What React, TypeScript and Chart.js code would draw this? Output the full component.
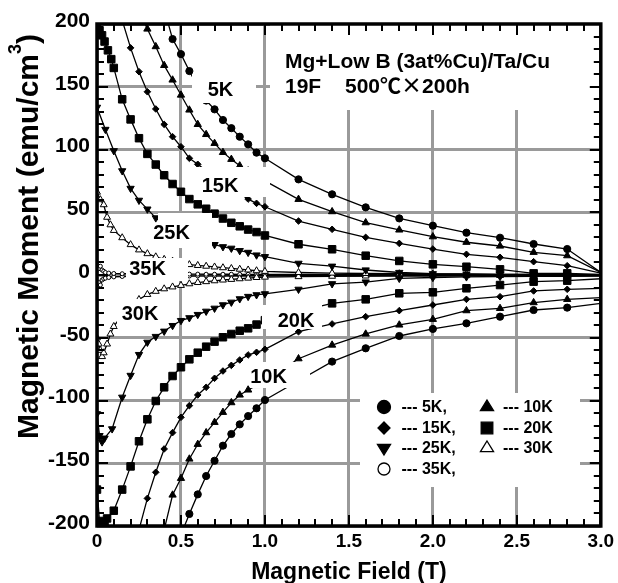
import React, { useEffect, useRef } from 'react';
import { Chart, registerables } from 'chart.js';

Chart.register(...registerables);

const FONT = '"Liberation Sans", Arial, Helvetica, sans-serif';
const CJK = '"Noto Sans CJK JP", "Liberation Sans", sans-serif';

// ---------- tick labels ----------
const xTickLabels = ['0', '0.5', '1.0', '1.5', '2.0', '2.5', '3.0'];
const yTickLabels = ['-200', '-150', '-100', '-50', '0', '50', '100', '150', '200'];

// ---------- data: field (T) / moment (emu/cm3) ----------
// 5 K
const f5Up = [0.40, 0.45, 0.50, 0.55, 0.60, 0.65, 0.70, 0.75, 0.80, 0.85, 0.90, 0.95, 1.00, 1.2, 1.4, 1.6, 1.8, 2.0, 2.2, 2.4, 2.6, 2.8, 3.0];
const m5Up = [212, 188, 176, 162.5, 150, 139, 132, 123.5, 117, 110.2, 104.1, 97.5, 93, 76.2, 64.3, 53.9, 45.1, 39.3, 33.7, 29.7, 24.7, 20.7, 2];
const f5Dn = [0.50, 0.55, 0.60, 0.65, 0.70, 0.75, 0.80, 0.85, 0.90, 0.95, 1.00, 1.2, 1.4, 1.6, 1.8, 2.0, 2.2, 2.4, 2.6, 2.8, 3.0];
const m5Dn = [-207, -190.4, -174.8, -160.2, -148, -136, -126.7, -119, -112.4, -106.2, -99.6, -84.3, -69, -58.4, -48.6, -43, -38.5, -33.2, -27.9, -26, -22.6];
// 10 K
const f10Up = [0.25, 0.30, 0.35, 0.40, 0.45, 0.50, 0.55, 0.60, 0.65, 0.70, 0.75, 0.80, 0.85, 0.90, 0.95, 1.00, 1.2, 1.4, 1.6, 1.8, 2.0, 2.2, 2.4, 2.6, 2.8, 3.0];
const m10Up = [211, 196, 182, 167, 155.4, 143.4, 131.5, 120, 112, 104.9, 97.7, 92.2, 87, 83, 79, 75, 60.3, 50.5, 41.7, 35.9, 30.5, 26.1, 23.1, 18.1, 15.4, 2];
const f10Dn = [0.40, 0.45, 0.50, 0.55, 0.60, 0.65, 0.70, 0.75, 0.80, 0.85, 0.90, 0.95, 1.00, 1.2, 1.4, 1.6, 1.8, 2.0, 2.2, 2.4, 2.6, 2.8, 3.0];
const m10Dn = [-203, -175.3, -162, -146.6, -134.9, -125.6, -117.4, -109.4, -101.7, -95.6, -91.6, -88, -84.5, -66.7, -55.8, -47, -39.8, -35.3, -28.4, -26.6, -22, -19.4, -18];
// 15 K
const f15Up = [0.15, 0.20, 0.25, 0.30, 0.35, 0.40, 0.45, 0.50, 0.55, 0.60, 0.65, 0.70, 0.75, 0.80, 0.85, 0.90, 0.95, 1.00, 1.2, 1.4, 1.6, 1.8, 2.0, 2.2, 2.4, 2.6, 2.8, 3.0];
const m15Up = [203, 181, 162, 146, 132.3, 120, 110.2, 102.2, 93, 88.2, 83, 78, 73.5, 69, 65, 60.5, 57.1, 54.4, 43, 36.4, 30, 25.2, 20.7, 16.5, 14.1, 10.6, 7.4, 1.5];
const f15Dn = [0.25, 0.30, 0.35, 0.40, 0.45, 0.50, 0.55, 0.60, 0.65, 0.70, 0.75, 0.80, 0.85, 0.90, 0.95, 1.00, 1.2, 1.4, 1.6, 1.8, 2.0, 2.2, 2.4, 2.6, 2.8, 3.0];
const m15Dn = [-203, -178, -157.2, -138.6, -125.6, -113.4, -104.1, -95.6, -89.5, -82.3, -76.5, -72, -67.7, -63.7, -61.6, -59.2, -45.2, -39, -33.2, -28.4, -23.9, -19.4, -17.3, -12.7, -11.4, -10.6];
// 20 K
const f20Up = [0.0, 0.015, 0.03, 0.045, 0.065, 0.085, 0.10, 0.15, 0.20, 0.25, 0.30, 0.35, 0.40, 0.45, 0.50, 0.55, 0.60, 0.65, 0.70, 0.75, 0.80, 0.85, 0.90, 0.95, 1.00, 1.2, 1.4, 1.6, 1.8, 2.0, 2.2, 2.4, 2.6, 2.8, 3.0];
const m20Up = [197, 195, 191, 186, 179, 172, 165, 140, 124, 109, 96.5, 88, 79.5, 72.5, 66.3, 60.5, 56.3, 52.8, 48.9, 45, 41.6, 38.8, 36.2, 34.2, 31.5, 24.5, 20.5, 15.4, 11.2, 8.5, 6.6, 4.5, 1.3, 1.3, 0.5];
const f20Dn = [0.0, 0.015, 0.03, 0.045, 0.06, 0.10, 0.15, 0.20, 0.25, 0.30, 0.35, 0.40, 0.45, 0.50, 0.55, 0.60, 0.65, 0.70, 0.75, 0.80, 0.85, 0.90, 0.95, 1.00, 1.2, 1.4, 1.6, 1.8, 2.0, 2.2, 2.4, 2.6, 2.8, 3.0];
const m20Dn = [-171, -196, -199, -198, -194, -187.8, -171, -152.5, -132.5, -115, -100.4, -89.5, -80.5, -73.5, -67.2, -61.9, -57.1, -53.1, -49.6, -47, -44.4, -42.5, -39.5, -36, -29, -22.6, -19.4, -14.6, -13.8, -10.6, -8, -5.3, -4.5, -3];
// 25 K
const f25Up = [0.0, 0.05, 0.10, 0.15, 0.20, 0.25, 0.30, 0.35, 0.40, 0.45, 0.50, 0.55, 0.60, 0.65, 0.70, 0.75, 0.80, 0.85, 0.90, 0.95, 1.00, 1.2, 1.4, 1.6, 1.8, 2.0, 2.2, 2.4, 2.6, 2.8, 3.0];
const m25Up = [133.6, 116, 99, 83, 69, 59.5, 52.5, 45.5, 40, 35.5, 31.5, 29, 27, 25.5, 24.2, 22.5, 21.3, 19.4, 18, 15.9, 14.6, 9.3, 7, 4, 2, 1, 0.8, 0.5, 0.5, 0.3, 0];
const f25Dn = [0.0, 0.015, 0.03, 0.045, 0.09, 0.15, 0.20, 0.25, 0.30, 0.35, 0.40, 0.45, 0.50, 0.55, 0.60, 0.65, 0.70, 0.75, 0.80, 0.85, 0.90, 0.95, 1.00, 1.2, 1.4, 1.6, 1.8, 2.0, 2.2, 2.4, 2.6, 2.8, 3.0];
const m25Dn = [-110.6, -128, -133, -130, -122.6, -97.4, -80, -63.4, -53.6, -49, -44.8, -40.3, -36.3, -34.1, -31.5, -28.9, -26.5, -23.8, -21.7, -19, -17.1, -15.8, -15, -11.4, -7, -5.6, -2.7, -2, -1.5, -1.2, -1, -1, -0.8];
// 30 K
const f30Up = [0.0, 0.02, 0.04, 0.06, 0.08, 0.10, 0.15, 0.20, 0.25, 0.30, 0.35, 0.40, 0.45, 0.50, 0.55, 0.60, 0.65, 0.70, 0.75, 0.80, 0.85, 0.90, 0.95, 1.00, 1.2, 1.4, 1.6, 1.8, 2.0, 2.2, 2.4, 2.6, 2.8, 3.0];
const m30Up = [66, 60, 56, 46, 40, 35.5, 29.7, 24.2, 20, 17, 14.5, 12.5, 11, 9.5, 8.3, 7.6, 7, 6.4, 5.8, 5.2, 4.6, 4, 3.4, 2.9, 2, 1.5, 1.2, 1, 0.8, 0.6, 0.5, 0.4, 0.3, 0];
const f30Dn = [0.0, 0.01, 0.02, 0.03, 0.04, 0.06, 0.08, 0.10, 0.15, 0.20, 0.25, 0.30, 0.35, 0.40, 0.45, 0.50, 0.55, 0.60, 0.65, 0.70, 0.75, 0.80, 0.85, 0.90, 0.95, 1.00, 1.2, 1.4, 1.6, 1.8, 2.0, 2.2, 2.4, 2.6, 2.8, 3.0];
const m30Dn = [-50, -55, -60, -65, -62, -55, -47, -41, -32, -24, -19.5, -15.5, -13, -11, -9.5, -8.3, -7, -6, -5.3, -4.6, -4, -3.5, -3, -2.5, -2, -1.7, -1.3, -1, -0.8, -0.7, -0.6, -0.5, -0.4, -0.4, -0.3, -0.3];
// 35 K
const f35Up = [0.0, 0.01, 0.02, 0.03, 0.04, 0.05, 0.07, 0.10, 0.15, 0.20, 0.25, 0.30, 0.35, 0.40, 0.45, 0.50, 0.55, 0.60, 0.65, 0.70, 0.75, 0.80, 0.85, 0.90, 0.95, 1.00, 1.2, 1.4, 1.6, 1.8, 2.0, 2.2, 2.4, 2.6, 2.8, 3.0];
const m35Up = [8, 5, 7, 4, 3, 2, 1.5, 1.2, 1, 1, 0.9, 0.9, 0.8, 0.8, 0.8, 0.7, 0.7, 0.7, 0.6, 0.6, 0.6, 0.6, 0.5, 0.5, 0.5, 0.5, 0.4, 0.4, 0.3, 0.3, 0.3, 0.3, 0.2, 0.2, 0.2, 0.1];
const f35Dn = [0.0, 0.01, 0.02, 0.03, 0.04, 0.05, 0.07, 0.10, 0.15, 0.20, 0.25, 0.30, 0.35, 0.40, 0.45, 0.50, 0.55, 0.60, 0.65, 0.70, 0.75, 0.80, 0.85, 0.90, 0.95, 1.00, 1.2, 1.4, 1.6, 1.8, 2.0, 2.2, 2.4, 2.6, 2.8, 3.0];
const m35Dn = [-9, -6, -8, -4, -3, -2.5, -2, -1.5, -1.2, -1.1, -1, -1, -0.9, -0.9, -0.8, -0.8, -0.8, -0.7, -0.7, -0.7, -0.7, -0.6, -0.6, -0.6, -0.6, -0.6, -0.5, -0.5, -0.4, -0.4, -0.4, -0.4, -0.3, -0.3, -0.3, -0.3];

type Marker = 'circle' | 'triangle' | 'triangleDown' | 'diamond' | 'square';

interface SeriesDef { field: number[]; moment: number[]; marker: Marker; radius: number; filled: boolean; }

const seriesDefs: SeriesDef[] = [
  { field: f5Up, moment: m5Up, marker: 'circle', radius: 3.6, filled: true },
  { field: f5Dn, moment: m5Dn, marker: 'circle', radius: 3.6, filled: true },
  { field: f10Up, moment: m10Up, marker: 'triangle', radius: 4.2, filled: true },
  { field: f10Dn, moment: m10Dn, marker: 'triangle', radius: 4.2, filled: true },
  { field: f15Up, moment: m15Up, marker: 'diamond', radius: 3.3, filled: true },
  { field: f15Dn, moment: m15Dn, marker: 'diamond', radius: 3.3, filled: true },
  { field: f20Up, moment: m20Up, marker: 'square', radius: 5.3, filled: true },
  { field: f20Dn, moment: m20Dn, marker: 'square', radius: 5.3, filled: true },
  { field: f25Up, moment: m25Up, marker: 'triangleDown', radius: 4.2, filled: true },
  { field: f25Dn, moment: m25Dn, marker: 'triangleDown', radius: 4.2, filled: true },
  { field: f30Up, moment: m30Up, marker: 'triangle', radius: 4.0, filled: false },
  { field: f30Dn, moment: m30Dn, marker: 'triangle', radius: 4.0, filled: false },
  { field: f35Up, moment: m35Up, marker: 'circle', radius: 2.0, filled: false },
  { field: f35Dn, moment: m35Dn, marker: 'circle', radius: 2.0, filled: false },
];

const pointStyleOf: Record<Marker, string> = {
  circle: 'circle', triangle: 'triangle', triangleDown: 'triangle', diamond: 'rectRot', square: 'rect',
};

// ---------- annotations (text) ----------
const curveLabels = ['5K', '15K', '25K', '35K', '30K', '20K', '10K'];
const titleLine1 = 'Mg+Low B (3at%Cu)/Ta/Cu';
const titleLine2a = '19F';
const titleLine2b = ['500', '℃×', '200h'];
const legendCol1 = ['--- 5K,', '--- 15K,', '--- 25K,', '--- 35K,'];
const legendCol2 = ['--- 10K', '--- 20K', '--- 30K'];
const xTitle = 'Magnetic Field (T)';
const yTitleMain = 'Magnetic Moment (emu/cm';

// label layout relative to chart-area top-left: text centre & white box [x, y, w, h]
const labelLayout = [
  { tx: 123.5, ty: 65.5, box: [95, 50, 64, 29] },
  { tx: 123, ty: 161, box: [98, 143, 75, 30] },
  { tx: 74.5, ty: 208, box: [61, 189, 54, 35] },
  { tx: 50.5, ty: 244, box: [29, 234, 62, 23] },
  { tx: 43, ty: 289.5, box: [20, 275, 46, 29] },
  { tx: 199, ty: 296, box: [165, 281, 60, 24] },
  { tx: 171.5, ty: 352, box: [153, 338, 60, 26] },
];

function drawMarker(ctx: CanvasRenderingContext2D, m: Marker, x: number, y: number, r: number, filled: boolean) {
  ctx.save();
  ctx.beginPath();
  if (m === 'circle') {
    ctx.arc(x, y, r, 0, Math.PI * 2);
  } else if (m === 'triangle' || m === 'triangleDown') {
    const s = m === 'triangle' ? 1 : -1;
    ctx.moveTo(x, y - s * r);
    ctx.lineTo(x + r * 0.866 * 1.08, y + s * r * 0.5 * 1.05);
    ctx.lineTo(x - r * 0.866 * 1.08, y + s * r * 0.5 * 1.05);
    ctx.closePath();
  } else if (m === 'diamond') {
    ctx.moveTo(x, y - r);
    ctx.lineTo(x + r, y);
    ctx.lineTo(x, y + r);
    ctx.lineTo(x - r, y);
    ctx.closePath();
  } else {
    ctx.rect(x - r, y - r, 2 * r, 2 * r);
  }
  ctx.fillStyle = filled ? '#000' : '#fff';
  ctx.fill();
  ctx.lineWidth = 1.3;
  ctx.strokeStyle = '#000';
  ctx.stroke();
  ctx.restore();
}

const decorPlugin = {
  id: 'decor',
  afterDatasetsDraw(chart: any) {
    const ctx: CanvasRenderingContext2D = chart.ctx;
    const ca = chart.chartArea;
    const L = ca.left, T = ca.top;
    ctx.save();
    ctx.fillStyle = '#fff';
    // title box & legend box
    ctx.fillRect(L + 173, T, ca.right - (L + 173), 86);
    ctx.fillRect(L + 263, T + 369, 220, 94);
    // label boxes
    labelLayout.forEach((l) => {
      ctx.fillRect(L + l.box[0], T + l.box[1], l.box[2], l.box[3]);
    });
    ctx.fillStyle = '#000';
    ctx.textAlign = 'center';
    ctx.textBaseline = 'middle';
    ctx.font = `bold 20px ${FONT}`;
    curveLabels.forEach((t, i) => {
      const l = labelLayout[i];
      ctx.fillText(t, L + l.tx, T + l.ty + 1);
    });
    // title
    ctx.textAlign = 'left';
    ctx.textBaseline = 'alphabetic';
    ctx.font = `bold 21px ${FONT}`;
    ctx.fillText(titleLine1, L + 188, T + 44);
    ctx.fillText(titleLine2a, L + 188, T + 69);
    let x = L + 248;
    titleLine2b.forEach((seg, i) => {
      ctx.font = i === 1 ? `bold 21px ${CJK}` : `bold 21px ${FONT}`;
      ctx.fillText(seg, x, T + 69);
      x += ctx.measureText(seg).width;
    });
    // legend
    ctx.font = `bold 16px ${FONT}`;
    ctx.textBaseline = 'middle';
    const rows = [383, 404, 424, 445];
    const col1: [Marker, number, boolean][] = [['circle', 6.5, true], ['diamond', 6, true], ['triangleDown', 7, true], ['circle', 6, false]];
    const col2: [Marker, number, boolean][] = [['triangle', 7, true], ['square', 5.8, true], ['triangle', 7, false]];
    legendCol1.forEach((t, i) => {
      drawMarker(ctx, col1[i][0], L + 287, T + rows[i], col1[i][1], col1[i][2]);
      ctx.fillStyle = '#000';
      ctx.fillText(t, L + 304.5, T + rows[i] + 1);
    });
    legendCol2.forEach((t, i) => {
      drawMarker(ctx, col2[i][0], L + 390, T + rows[i], col2[i][1], col2[i][2]);
      ctx.fillStyle = '#000';
      ctx.fillText(t, L + 406, T + rows[i] + 1);
    });
    ctx.restore();
  },
  afterDraw(chart: any) {
    const ctx: CanvasRenderingContext2D = chart.ctx;
    const ca = chart.chartArea;
    const xs = chart.scales.x;
    const ys = chart.scales.y;
    ctx.save();
    ctx.strokeStyle = '#000';
    ctx.lineWidth = 2;
    ctx.beginPath();
    for (let i = 0; i <= 30; i++) {
      const px = Math.round(xs.getPixelForValue(i / 10));
      const len = i % 5 === 0 ? 11 : 7;
      ctx.moveTo(px, ca.top); ctx.lineTo(px, ca.top + len);
      ctx.moveTo(px, ca.bottom); ctx.lineTo(px, ca.bottom - len);
    }
    for (let i = -20; i <= 20; i++) {
      const py = Math.round(ys.getPixelForValue(i * 10));
      const len = i % 5 === 0 ? 11 : 7;
      ctx.moveTo(ca.left, py); ctx.lineTo(ca.left + len, py);
      ctx.moveTo(ca.right, py); ctx.lineTo(ca.right - len, py);
    }
    ctx.stroke();
    ctx.lineWidth = 3.5;
    ctx.strokeRect(ca.left, ca.top, ca.right - ca.left, ca.bottom - ca.top);

    // axis titles
    ctx.fillStyle = '#000';
    ctx.textAlign = 'center';
    ctx.textBaseline = 'alphabetic';
    ctx.font = `bold 23px ${FONT}`;
    ctx.fillText(xTitle, (ca.left + ca.right) / 2, 579);

    ctx.translate(37.5, 236.5);
    ctx.rotate(-Math.PI / 2);
    ctx.textAlign = 'left';
    ctx.font = `bold 30px ${FONT}`;
    const w1 = ctx.measureText(yTitleMain).width;
    ctx.font = `bold 18px ${FONT}`;
    const w2 = ctx.measureText('3').width;
    ctx.font = `bold 30px ${FONT}`;
    const w3 = ctx.measureText(')').width;
    let x0 = -(w1 + w2 + w3) / 2;
    ctx.fillText(yTitleMain, x0, 0);
    x0 += w1;
    ctx.font = `bold 18px ${FONT}`;
    ctx.fillText('3', x0, -17);
    x0 += w2;
    ctx.font = `bold 30px ${FONT}`;
    ctx.fillText(')', x0, 0);
    ctx.restore();
  },
};

export default function App() {
  const ref = useRef<HTMLCanvasElement | null>(null);
  useEffect(() => {
    if (!ref.current) return;
    const datasets = seriesDefs.map((s) => ({
      data: s.field.map((f, i) => ({ x: f, y: s.moment[i] })),
      showLine: true,
      borderColor: '#000',
      borderWidth: 1.3,
      backgroundColor: s.filled ? '#000' : '#fff',
      pointBackgroundColor: s.filled ? '#000' : '#fff',
      pointBorderColor: '#000',
      pointBorderWidth: 1,
      pointStyle: pointStyleOf[s.marker],
      pointRotation: s.marker === 'triangleDown' ? 180 : 0,
      pointRadius: (c: any) => (c.raw && c.raw.x >= 3 ? 0 : s.radius),
      pointHoverRadius: s.radius,
      tension: 0,
      fill: false,
    }));
    const chart = new Chart(ref.current, {
      type: 'scatter',
      data: { datasets },
      options: {
        animation: false,
        responsive: true,
        maintainAspectRatio: false,
        layout: { padding: { left: 0, top: 24, right: 17, bottom: 0 } },
        plugins: { legend: { display: false }, tooltip: { enabled: false } },
        scales: {
          x: {
            type: 'linear',
            min: 0,
            max: 3,
            afterFit: (s: any) => { s.height = 57; },
            ticks: {
              stepSize: 0.5,
              autoSkip: false,
              maxRotation: 0,
              padding: 4,
              color: '#000',
              font: { family: FONT, size: 19, weight: 'bold' },
              callback: (_v: any, i: number) => xTickLabels[i],
            },
            grid: { color: '#9a9a9a', lineWidth: 3, drawTicks: false },
            border: { display: false },
          },
          y: {
            type: 'linear',
            min: -200,
            max: 200,
            afterFit: (s: any) => { s.width = 97; },
            ticks: {
              stepSize: 50,
              autoSkip: false,
              padding: 7,
              labelOffset: -3,
              color: '#000',
              font: { family: FONT, size: 21, weight: 'bold' },
              callback: (_v: any, i: number) => yTickLabels[i],
            },
            grid: { color: '#9a9a9a', lineWidth: 3, drawTicks: false },
            border: { display: false },
          },
        },
      },
      plugins: [decorPlugin],
    } as any);
    return () => chart.destroy();
  }, []);
  return (
    <div style={{ position: 'fixed', left: 0, top: 0, width: 618, height: 583, background: '#fff' }}>
      <canvas ref={ref} />
    </div>
  );
}
